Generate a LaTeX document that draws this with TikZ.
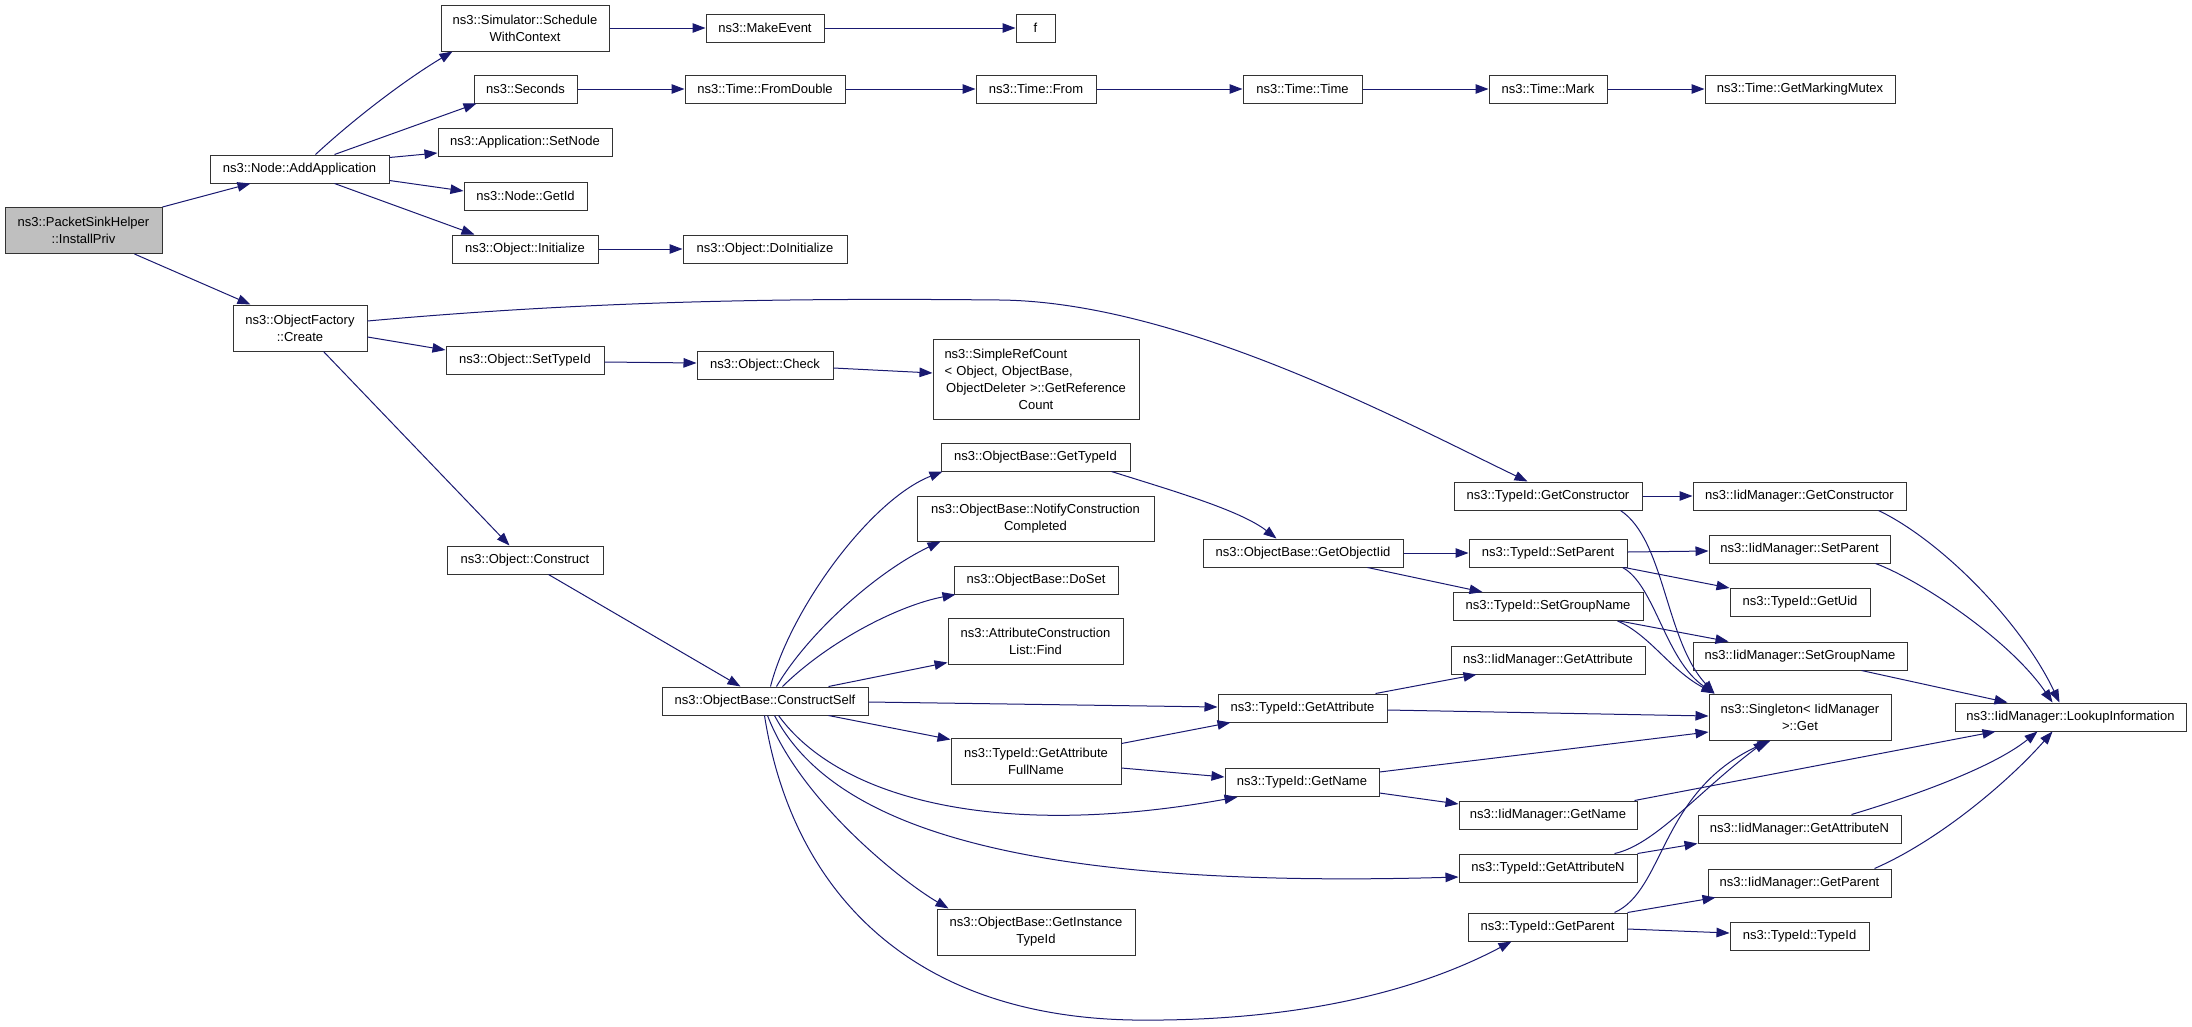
\documentclass[tikz,border=0pt]{standalone}
\usepackage{fontspec}
\setmainfont{Liberation Sans}
\usetikzlibrary{arrows.meta}
\definecolor{edgec}{RGB}{25,25,112}
\definecolor{rootfill}{RGB}{191,191,191}
\begin{document}
\begin{tikzpicture}[x=1pt,y=-1pt,
  box/.style={draw=black!80, line width=1pt, fill=white, inner sep=0pt,
    minimum height=28pt, align=center, font=\fontsize{13}{17}\selectfont},
  two/.style={minimum height=46pt},
  e/.style={draw=edgec, line width=1pt, -{Triangle[length=13pt,width=9.5pt]}}]
\useasboundingbox (0,0) rectangle (2192,1026);
% rank 0
\node[box, two, fill=rootfill, minimum width=157pt] (psh) at (83.5,230.5) {ns3::PacketSinkHelper\\::InstallPriv};
% rank 1
\node[box, minimum width=179pt] (addapp) at (299.5,169) {ns3::Node::AddApplication};
\node[box, two, minimum width=134pt] (create) at (300,328) {ns3::ObjectFactory\\::Create};
% rank 2
\node[box, two, minimum width=168pt] (sim) at (525,28) {ns3::Simulator::Schedule\\WithContext};
\node[box, minimum width=103pt] (sec) at (525.5,89) {ns3::Seconds};
\node[box, minimum width=174pt] (setnode) at (525,142.5) {ns3::Application::SetNode};
\node[box, minimum width=123pt] (getid) at (525.5,196) {ns3::Node::GetId};
\node[box, minimum width=146pt] (init) at (525,249) {ns3::Object::Initialize};
\node[box, minimum width=158pt] (settid) at (525,360) {ns3::Object::SetTypeId};
\node[box, minimum width=156pt] (construct) at (525,560) {ns3::Object::Construct};
% rank 3
\node[box, minimum width=118pt] (mkev) at (765,28) {ns3::MakeEvent};
\node[box, minimum width=160pt] (fdbl) at (765,89) {ns3::Time::FromDouble};
\node[box, minimum width=164pt] (doinit) at (765,249) {ns3::Object::DoInitialize};
\node[box, minimum width=136pt] (check) at (765,365) {ns3::Object::Check};
\node[box, minimum width=206pt] (cself) at (765,701) {ns3::ObjectBase::ConstructSelf};
% rank 4
\node[box, minimum width=39pt] (f) at (1035.5,28) {f};
\node[box, minimum width=120pt] (tfrom) at (1036,89) {ns3::Time::From};
\node[box, minimum width=206pt, minimum height=80pt, text width=183pt] (src) at (1036,379)
  {\makebox[183pt][l]{ns3::SimpleRefCount}\\\makebox[183pt][l]{< Object, ObjectBase,}\\ ObjectDeleter >::GetReference\\Count};
\node[box, minimum width=189pt] (obgtid) at (1035.5,457) {ns3::ObjectBase::GetTypeId};
\node[box, two, minimum width=237pt, minimum height=45pt] (notify) at (1035.5,518.5) {ns3::ObjectBase::NotifyConstruction\\Completed};
\node[box, minimum width=164pt] (doset) at (1036,580) {ns3::ObjectBase::DoSet};
\node[box, two, minimum width=175pt] (find) at (1035.5,641) {ns3::AttributeConstruction\\List::Find};
\node[box, two, minimum width=170pt] (fullname) at (1036,761) {ns3::TypeId::GetAttribute\\FullName};
\node[box, two, minimum width=198pt] (inst) at (1036,932) {ns3::ObjectBase::GetInstance\\TypeId};
% rank 5
\node[box, minimum width=119pt] (ttime) at (1302.5,89) {ns3::Time::Time};
\node[box, minimum width=200pt] (goiid) at (1303,553) {ns3::ObjectBase::GetObjectIid};
\node[box, minimum width=169pt] (tgattr) at (1302.5,708) {ns3::TypeId::GetAttribute};
\node[box, minimum width=154pt] (tgname) at (1302,782.5) {ns3::TypeId::GetName};
% rank 6
\node[box, minimum width=118pt] (tmark) at (1548,89) {ns3::Time::Mark};
\node[box, minimum width=188pt] (tgcons) at (1548,496) {ns3::TypeId::GetConstructor};
\node[box, minimum width=158pt] (tsetp) at (1548,553) {ns3::TypeId::SetParent};
\node[box, minimum width=190pt] (tsetg) at (1548,606.5) {ns3::TypeId::SetGroupName};
\node[box, minimum width=194pt] (igattr) at (1548,660) {ns3::IidManager::GetAttribute};
\node[box, minimum width=178pt] (igname) at (1548,815) {ns3::IidManager::GetName};
\node[box, minimum width=178pt] (tgattrn) at (1548,868) {ns3::TypeId::GetAttributeN};
\node[box, minimum width=159pt] (tgpar) at (1547.5,927) {ns3::TypeId::GetParent};
% rank 7
\node[box, minimum width=190pt] (mutex) at (1800,89) {ns3::Time::GetMarkingMutex};
\node[box, minimum width=213pt] (igcons) at (1799.5,496) {ns3::IidManager::GetConstructor};
\node[box, minimum width=181pt] (isetp) at (1799.5,549) {ns3::IidManager::SetParent};
\node[box, minimum width=140pt] (guid) at (1800,602.5) {ns3::TypeId::GetUid};
\node[box, minimum width=214pt] (isetg) at (1800,656) {ns3::IidManager::SetGroupName};
\node[box, two, minimum width=182pt] (single) at (1800,717) {ns3::Singleton< IidManager\\>::Get};
\node[box, minimum width=203pt] (igattrn) at (1799.5,829) {ns3::IidManager::GetAttributeN};
\node[box, minimum width=183pt] (igpar) at (1799.5,883) {ns3::IidManager::GetParent};
\node[box, minimum width=139pt] (ttid) at (1799.5,936) {ns3::TypeId::TypeId};
% rank 8
\node[box, minimum width=231pt] (lookup) at (2070.5,717) {ns3::IidManager::LookupInformation};
% edges
\draw[e] (psh.north east) -- ([xshift=41pt]addapp.south west);
\draw[e] ([xshift=130pt]psh.south west) -- ([xshift=18pt]create.north west);
\draw[e] ([xshift=106pt]addapp.north west) .. controls (355,118) and (405,80) .. ([xshift=12pt]sim.south west);
\draw[e] ([xshift=125pt]addapp.north west) -- ([xshift=3pt]sec.south west);
\draw[e] ([yshift=-3pt]addapp.north east) -- ([yshift=-10.5pt]setnode.west);
\draw[e] ([yshift=3pt]addapp.south east) -- ([yshift=5pt]getid.west);
\draw[e] ([xshift=125pt]addapp.south west) -- ([xshift=23pt]init.north west);
\draw[e] (sim.east) -- (mkev.west);
\draw[e] (mkev.east) -- (f.west);
\draw[e] (sec.east) -- (fdbl.west);
\draw[e] (fdbl.east) -- (tfrom.west);
\draw[e] (tfrom.east) -- (ttime.west);
\draw[e] (ttime.east) -- (tmark.west);
\draw[e] (tmark.east) -- (mutex.west);
\draw[e] (init.east) -- (doinit.west);
\draw[e] ([yshift=7pt]create.east) .. controls (600,300) and (800,298) .. (1000,300) .. controls (1180,302) and (1400,420) .. ([xshift=74pt]tgcons.north west);
\draw[e] ([yshift=-9pt]create.east) -- ([yshift=10pt]settid.west);
\draw[e] ([xshift=91pt]create.south west) -- ([xshift=63pt]construct.north west);
\draw[e] ([yshift=-2pt]settid.east) -- ([yshift=2pt]check.west);
\draw[e] ([yshift=-3pt]check.east) -- ([yshift=6pt]src.west);
\draw[e] ([xshift=102pt]construct.south west) -- ([xshift=79pt]cself.north west);
\draw[e] ([xshift=109pt]cself.north west) .. controls (790,610) and (870,500) .. ([xshift=2pt]obgtid.south west);
\draw[e] ([xshift=115pt]cself.north west) .. controls (810,630) and (880,570) .. ([xshift=24pt]notify.south west);
\draw[e] ([xshift=121pt]cself.north west) .. controls (830,640) and (900,605) .. ([xshift=2pt]doset.south west);
\draw[e] ([xshift=167pt]cself.north west) -- ([yshift=2pt]find.south west);
\draw[e] ([yshift=-1pt]cself.east) -- ([yshift=1pt]tgattr.west);
\draw[e] ([xshift=167pt]cself.south west) -- ([yshift=-2pt]fullname.north west);
\draw[e] ([xshift=117pt]cself.south west) .. controls (840,800) and (1000,840) .. ([xshift=13pt]tgname.south west);
\draw[e] ([xshift=113pt]cself.south west) .. controls (830,820) and (1000,890) .. ([yshift=-9pt]tgattrn.west);
\draw[e] ([xshift=106pt]cself.south west) .. controls (800,800) and (900,880) .. ([xshift=12pt]inst.north west);
\draw[e] ([xshift=103pt]cself.south west) .. controls (790,880) and (900,1016) .. (1133,1020) .. controls (1300,1022) and (1420,990) .. ([xshift=44pt]tgpar.south west);
\draw[e] ([xshift=171pt]obgtid.south west) .. controls (1170,490) and (1240,510) .. ([xshift=74pt]goiid.north west);
\draw[e] (goiid.east) -- (tsetp.west);
\draw[e] ([xshift=165pt]goiid.south west) -- ([xshift=30pt]tsetg.north west);
\draw[e] (tgcons.east) -- (igcons.west);
\draw[e] ([xshift=167pt]tgcons.south west) .. controls (1665,540) and (1665,640) .. ([xshift=6pt]single.north west);
\draw[e] ([yshift=1pt]tsetp.east) -- ([yshift=-2pt]isetp.west);
\draw[e] ([xshift=-3pt]tsetp.south east) -- (guid.north west);
\draw[e] ([xshift=-5pt]tsetp.south east) .. controls (1655,585) and (1665,660) .. ([xshift=6pt]single.north west);
\draw[e] ([xshift=-24pt]tsetg.south east) -- ([xshift=36pt]isetg.north west);
\draw[e] ([xshift=-26pt]tsetg.south east) .. controls (1650,635) and (1670,670) .. ([xshift=6pt]single.north west);
\draw[e] ([xshift=-12pt]tgattr.north east) -- ([xshift=26pt]igattr.south west);
\draw[e] ([yshift=-2pt]tgattr.east) -- ([yshift=1pt]single.west);
\draw[e] ([yshift=-6pt]fullname.north east) -- ([xshift=13pt]tgattr.south west);
\draw[e] ([yshift=-7pt]fullname.east) -- ([yshift=5.5pt]tgname.west);
\draw[e] ([yshift=10.5pt]tgname.east) -- ([yshift=-15pt]single.west);
\draw[e] ([yshift=-10.5pt]tgname.east) -- ([yshift=11pt]igname.west);
\draw[e] ([xshift=-23pt]tgattrn.north east) .. controls (1655,845) and (1700,790) .. ([xshift=58pt]single.south west);
\draw[e] (tgattrn.north east) -- (igattrn.south west);
\draw[e] ([xshift=-13pt]tgpar.north east) .. controls (1665,890) and (1660,790) .. ([xshift=62pt]single.south west);
\draw[e] (tgpar.north east) -- ([xshift=8pt]igpar.south west);
\draw[e] ([yshift=-2pt]tgpar.east) -- ([yshift=3pt]ttid.west);
\draw[e] ([xshift=-28pt]igcons.south east) .. controls (1940,540) and (2020,620) .. ([xshift=105pt]lookup.north west);
\draw[e] ([xshift=167pt]isetp.south west) .. controls (1920,580) and (2010,640) .. ([xshift=98pt]lookup.north west);
\draw[e] ([xshift=169pt]isetg.south west) -- ([xshift=53pt]lookup.north west);
\draw[e] ([xshift=-3pt]igname.north east) -- ([xshift=41pt]lookup.south west);
\draw[e] ([xshift=154pt]igattrn.north west) .. controls (1900,800) and (1990,770) .. ([xshift=83pt]lookup.south west);
\draw[e] ([xshift=167pt]igpar.north west) .. controls (1940,840) and (2010,780) .. ([xshift=98pt]lookup.south west);
\end{tikzpicture}
\end{document}
